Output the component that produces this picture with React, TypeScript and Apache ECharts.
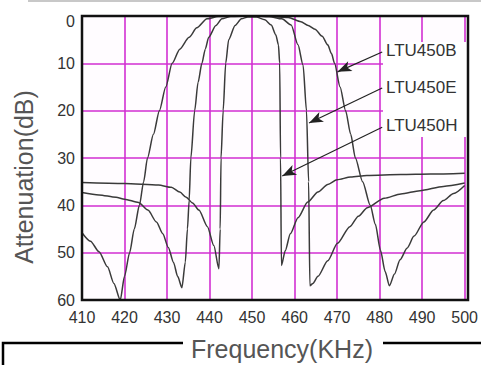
import React, { useEffect, useRef } from "react";
import * as echarts from "echarts";

// ---- data (frequency in kHz, attenuation in dB) ----
const freqB = [410, 412, 414, 416, 417.5, 419, 420, 421.2, 422.3, 423.5, 424.5, 425.4, 426.8, 428.2, 429.7, 431.2, 433, 435.2, 437, 439.4, 442, 446, 450, 454, 458.5, 461.5, 463.2, 464.8, 466.5, 467.8, 468.7, 469.4, 470.7, 472, 473.2, 474.3, 476, 477.8, 479, 480.2, 481.3, 482.3, 483.5, 484.8, 486.5, 488.1, 490.4, 492.7, 495, 497.4, 500];
const attB = [45.8, 47.6, 49.8, 53, 56.5, 60, 55, 50, 45, 40, 35, 30, 25, 20, 15, 10, 7, 4.5, 2.5, 0.6, 0.1, 0, 0, 0.1, 0.3, 1.2, 2, 2.8, 4.3, 6.1, 8, 10, 15, 20, 25, 30, 35, 40, 44, 49.5, 54, 57, 54.5, 51.5, 49, 46.5, 43.5, 41, 39, 37.5, 35.8];

const freqE = [410, 414, 418, 420, 423.3, 425.5, 427.5, 429, 430.3, 431.5, 432.5, 433.5, 434.3, 434.8, 435.2, 435.6, 436.5, 437.3, 438.2, 439, 439.8, 441.5, 442.9, 445, 450, 454, 457, 459.2, 460.8, 462, 462.8, 463.3, 463.6, 464.3, 465.5, 467.8, 470.1, 473, 475, 477.1, 481.1, 485, 489.5, 495, 500];
const attE = [37.3, 37.8, 38.3, 38.7, 39.4, 41, 43.5, 46, 48.9, 52, 55, 57.4, 52, 45, 39, 30, 20, 14, 10, 7, 4.5, 2, 0.6, 0.1, 0, 0.1, 0.6, 1.9, 6.1, 10.4, 20, 35, 57, 56.5, 55, 51.7, 48, 44.5, 42.3, 40.5, 38.5, 37.6, 36.9, 36, 35.3];

const freqH = [410, 420, 428, 431, 433, 434.5, 436, 437.5, 439.5, 441, 442.2, 442.5, 442.7, 443.2, 443.8, 444.5, 446, 447.5, 449, 451, 453, 454.5, 455.6, 456.2, 456.5, 456.7, 456.9, 457.8, 459, 460.8, 463.1, 465.5, 467.8, 470, 473.2, 477, 485, 492, 500];
const attH = [35.2, 35.4, 35.7, 36.2, 37.2, 38.3, 39.5, 41, 44.5, 48.5, 53.4, 45, 30, 20, 10, 5, 2, 0.6, 0.2, 0.2, 0.8, 1.9, 4, 6.1, 10, 30, 52.7, 49.6, 46, 42.6, 39.3, 37.2, 35.6, 34.6, 34, 33.7, 33.5, 33.4, 33.2];

const seriesNames = ["LTU450B", "LTU450E", "LTU450H"];
// arrow annotations: [label-end coord, arrow tip coord] in data space
const arrowStart = [[480.6, 7.6], [480.6, 15.2], [480.6, 23.5]];
const arrowTip = [[470.1, 11.8], [463.4, 22.6], [457.1, 33.8]];

const xMin = 410, xMax = 500, xStep = 10;
const yMin = 0, yMax = 60, yStep = 10;

const FONT = "'Liberation Sans', Arial, sans-serif";

function zip(xs: number[], ys: number[]) {
  return xs.map((x, i) => [x, ys[i]]);
}

export default function App() {
  const ref = useRef<HTMLDivElement>(null);
  useEffect(() => {
    if (!ref.current) return;
    const chart = echarts.init(ref.current, undefined, { renderer: "svg" });
    const curves = [zip(freqB, attB), zip(freqE, attE), zip(freqH, attH)];
    const series: any[] = curves.map((d, i) => ({
      type: "line",
      name: seriesNames[i],
      data: d,
      showSymbol: false,
      smooth: 0.25,
      smoothMonotone: "x",
      lineStyle: { color: "#3a3a3a", width: 1.5 },
      z: 3,
      markLine: {
        silent: true,
        symbol: ["none", "arrow"],
        symbolSize: [8, 14],
        label: { show: false },
        lineStyle: { color: "#222", width: 1.2, type: "solid" },
        data: [[{ coord: arrowStart[i] }, { coord: arrowTip[i] }]],
        z: 6,
      },
    }));
    chart.setOption({
      animation: false,
      backgroundColor: "#ffffff",
      grid: {
        left: 82,
        top: 16,
        right: 13,
        bottom: 65,
        show: true,
        backgroundColor: "#fffcff",
        borderWidth: 0,
      },
      xAxis: {
        type: "value",
        min: xMin,
        max: xMax,
        interval: xStep,
        axisLine: { show: false },
        axisTick: { show: false },
        splitLine: { show: true, lineStyle: { color: "#d22fd2", width: 1.6 } },
        axisLabel: { fontSize: 16, color: "#333", margin: 9, fontFamily: FONT },
      },
      yAxis: {
        type: "value",
        inverse: true,
        min: yMin,
        max: yMax,
        interval: yStep,
        axisLine: { show: false },
        axisTick: { show: false },
        splitLine: { show: true, lineStyle: { color: "#d22fd2", width: 1.6 } },
        axisLabel: {
          fontSize: 16,
          color: "#333",
          margin: 7,
          fontFamily: FONT,
          formatter: (v: number) => (v === 0 ? "{z|0}" : String(v)),
          rich: { z: { fontSize: 16, color: "#333", fontFamily: FONT, padding: [10, 0, 0, 0] } },
        },
      },
      series,
      graphic: [
        { type: "rect", z: 1, shape: { x: 383, y: 42, width: 84, height: 95 }, style: { fill: "#ffffff" } },
        { type: "rect", z: 20, shape: { x: 82, y: 16, width: 386, height: 284 }, style: { fill: "none", stroke: "#111", lineWidth: 2.5 } },
        { type: "rect", z: 20, shape: { x: 28, y: 0, width: 460, height: 2 }, style: { fill: "#c8c8c8" } },
        { type: "text", z: 20, x: 386, y: 50, style: { text: seriesNames[0], font: `17px ${FONT}`, fill: "#333", verticalAlign: "middle", align: "left" } },
        { type: "text", z: 20, x: 386, y: 87, style: { text: seriesNames[1], font: `17px ${FONT}`, fill: "#333", verticalAlign: "middle", align: "left" } },
        { type: "text", z: 20, x: 386, y: 125, style: { text: seriesNames[2], font: `17px ${FONT}`, fill: "#333", verticalAlign: "middle", align: "left" } },
        { type: "text", z: 20, x: 24, y: 177, rotation: Math.PI / 2, style: { text: "Attenuation(dB)", font: `25px ${FONT}`, fill: "#555", verticalAlign: "middle", align: "center" } },
        { type: "rect", z: 20, shape: { x: 3, y: 343, width: 500, height: 40 }, style: { fill: "#fff", stroke: "#000", lineWidth: 2.5 } },
        { type: "rect", z: 21, shape: { x: 183, y: 336, width: 200, height: 12 }, style: { fill: "#fff" } },
        { type: "text", z: 22, x: 282, y: 349, style: { text: "Frequency(KHz)", font: `25px ${FONT}`, fill: "#555", verticalAlign: "middle", align: "center" } },
      ],
    });
    return () => chart.dispose();
  }, []);
  return <div ref={ref} style={{ position: "fixed", left: 0, top: 0, width: 481, height: 365 }} />;
}
